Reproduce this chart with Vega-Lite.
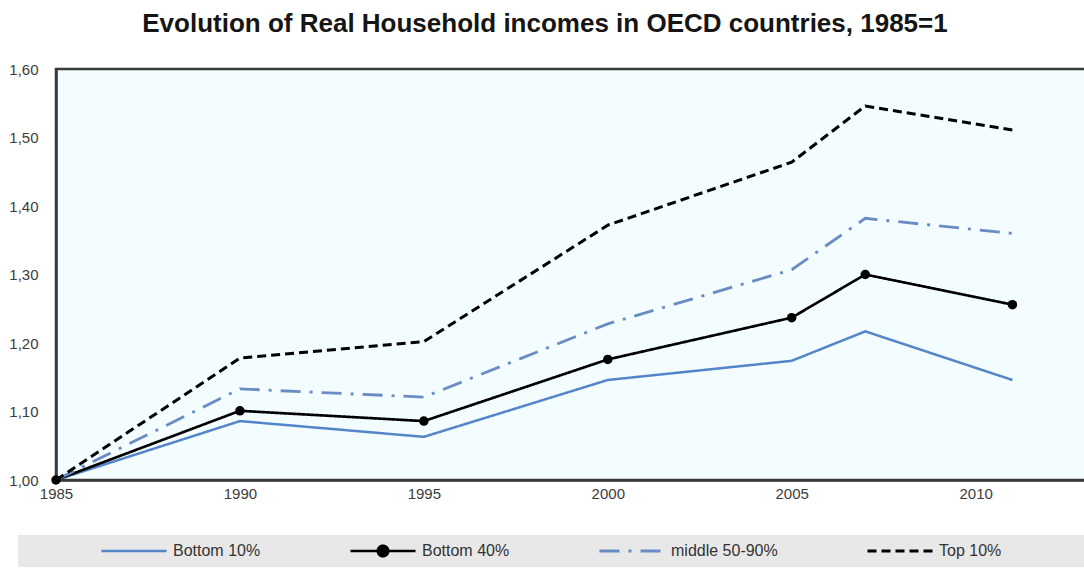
{
  "$schema": "https://vega.github.io/schema/vega-lite/v6.json",
  "width": 1030,
  "height": 411,
  "autosize": {"type": "none"},
  "padding": {"left": 56, "top": 69, "right": 0, "bottom": 91},
  "background": "#ffffff",
  "title": {
    "text": "Evolution of Real Household incomes in OECD countries, 1985=1",
    "font": "Liberation Sans",
    "fontSize": 26,
    "fontWeight": "bold",
    "color": "#151515",
    "anchor": "middle",
    "dx": -26,
    "offset": 25
  },
  "config": {
    "view": {"stroke": "#3a3a3a", "strokeWidth": 2.5, "fill": "#f3fcfe"},
    "axis": {
      "labelFont": "Liberation Sans",
      "labelFontSize": 15,
      "labelColor": "#3c3c3c",
      "ticks": false,
      "grid": false,
      "domainColor": "#3a3a3a",
      "domainWidth": 2.5,
      "title": null
    }
  },
  "data": {
    "values": [
      {"year": 1985, "series": "Bottom 10%", "value": 1.0},
      {"year": 1990, "series": "Bottom 10%", "value": 1.086},
      {"year": 1995, "series": "Bottom 10%", "value": 1.063},
      {"year": 2000, "series": "Bottom 10%", "value": 1.146},
      {"year": 2005, "series": "Bottom 10%", "value": 1.174},
      {"year": 2007, "series": "Bottom 10%", "value": 1.217},
      {"year": 2011, "series": "Bottom 10%", "value": 1.146},
      {"year": 1985, "series": "Bottom 40%", "value": 1.0},
      {"year": 1990, "series": "Bottom 40%", "value": 1.101},
      {"year": 1995, "series": "Bottom 40%", "value": 1.086},
      {"year": 2000, "series": "Bottom 40%", "value": 1.176},
      {"year": 2005, "series": "Bottom 40%", "value": 1.237},
      {"year": 2007, "series": "Bottom 40%", "value": 1.300},
      {"year": 2011, "series": "Bottom 40%", "value": 1.256},
      {"year": 1985, "series": "middle 50-90%", "value": 1.0},
      {"year": 1990, "series": "middle 50-90%", "value": 1.133},
      {"year": 1995, "series": "middle 50-90%", "value": 1.121},
      {"year": 2000, "series": "middle 50-90%", "value": 1.228},
      {"year": 2005, "series": "middle 50-90%", "value": 1.307},
      {"year": 2007, "series": "middle 50-90%", "value": 1.382},
      {"year": 2011, "series": "middle 50-90%", "value": 1.360},
      {"year": 1985, "series": "Top 10%", "value": 1.0},
      {"year": 1990, "series": "Top 10%", "value": 1.178},
      {"year": 1995, "series": "Top 10%", "value": 1.202},
      {"year": 2000, "series": "Top 10%", "value": 1.372},
      {"year": 2005, "series": "Top 10%", "value": 1.464},
      {"year": 2007, "series": "Top 10%", "value": 1.546},
      {"year": 2011, "series": "Top 10%", "value": 1.511}
    ]
  },
  "layer": [
    {
      "mark": {"type": "line", "strokeCap": "butt", "strokeJoin": "miter"},
      "encoding": {
        "x": {
          "field": "year",
          "type": "quantitative",
          "scale": {"domain": [1985, 2013], "nice": false, "zero": false},
          "axis": {"values": [1985, 1990, 1995, 2000, 2005, 2010], "format": "d", "labelPadding": 6, "labelFlush": false}
        },
        "y": {
          "field": "value",
          "type": "quantitative",
          "scale": {"domain": [1.0, 1.6], "nice": false, "zero": false},
          "axis": {"values": [1.0, 1.1, 1.2, 1.3, 1.4, 1.5, 1.6], "format": ".2f", "labelExpr": "replace(datum.label, '.', ',')", "labelPadding": 18}
        },
        "color": {
          "field": "series",
          "type": "nominal",
          "scale": {
            "domain": ["Bottom 10%", "Bottom 40%", "middle 50-90%", "Top 10%"],
            "range": ["#5485c8", "#000000", "#6a8cc4", "#000000"]
          },
          "legend": {
            "orient": "none",
            "legendX": -38,
            "legendY": 466,
            "direction": "horizontal",
            "columns": 4,
            "gridAlign": "each",
            "title": null,
            "fillColor": "#e8e8e8",
            "padding": 8,
            "columnPadding": 14,
            "symbolType": "stroke",
            "symbolSize": 4225,
            "symbolOffset": 74,
            "symbolStrokeWidth": 3,
            "clipHeight": 16,
            "labelFont": "Liberation Sans",
            "labelFontSize": 16,
            "labelColor": "#333333",
            "labelOffset": 5,
            "labelLimit": 400,
            "labelExpr": "datum.label === 'Top 10%' ? datum.label + '\u2800\u2800\u2800\u2800\u2800\u2800\u2800' : datum.label",
            "encode": {
              "symbols": {
                "update": {
                  "shape": {"signal": "datum.value === 'Bottom 40%' ? 'M-1,0H1M-0.16,0A0.16,0.16,0,1,1,0.16,0A0.16,0.16,0,1,1,-0.16,0Z' : 'stroke'"},
                  "fill": {"signal": "datum.value === 'Bottom 40%' ? '#000000' : 'transparent'"}
                }
              }
            }
          }
        },
        "strokeDash": {
          "field": "series",
          "type": "nominal",
          "scale": {
            "domain": ["Bottom 10%", "Bottom 40%", "middle 50-90%", "Top 10%"],
            "range": [[1, 0], [1, 0], [20, 9, 3, 9], [9, 5]]
          }
        },
        "strokeWidth": {
          "field": "series",
          "type": "nominal",
          "scale": {
            "domain": ["Bottom 10%", "Bottom 40%", "middle 50-90%", "Top 10%"],
            "range": [2.5, 3, 2.5, 3.2]
          },
          "legend": null
        }
      }
    },
    {
      "transform": [{"filter": "datum.series === 'Bottom 40%'"}],
      "mark": {"type": "point", "filled": true, "color": "#000000", "size": 90, "opacity": 1},
      "encoding": {
        "x": {"field": "year", "type": "quantitative"},
        "y": {"field": "value", "type": "quantitative"}
      }
    }
  ]
}
